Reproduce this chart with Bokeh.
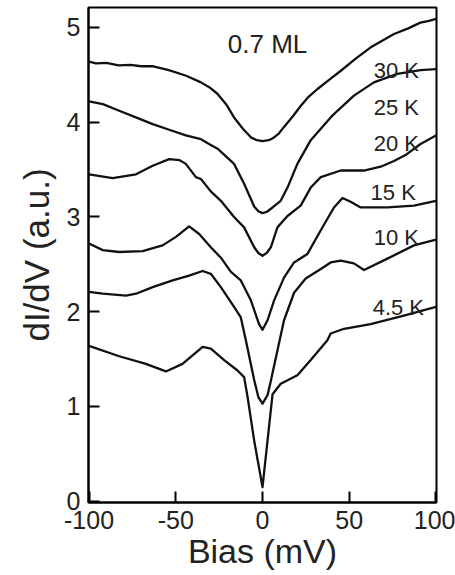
from bokeh.plotting import figure
from bokeh.models import Range1d, FixedTicker, ColumnDataSource
from bokeh.core.properties import value
from bokeh.embed import file_html
from bokeh.resources import INLINE

# Tunneling spectra dI/dV vs bias at several temperatures (curves are offset)
temps = ["30 K", "25 K", "20 K", "15 K", "10 K", "4.5 K"]

bias_30 = [-100, -96, -90, -83, -76, -70, -63, -54, -44, -35.5, -30, -26, -21, -16.4, -11.3, -6.7, -3.3, 0,
           3.6, 5.9, 9.4, 12.4, 17.4, 22, 26.7, 31.7, 39.3, 45, 53.7, 62.4, 70, 75.8, 84, 91, 96, 100]
didv_30 = [4.64, 4.62, 4.625, 4.60, 4.605, 4.59, 4.59, 4.55, 4.49, 4.42, 4.36, 4.30, 4.19, 4.05, 3.93, 3.84, 3.81, 3.80,
           3.81, 3.83, 3.88, 3.95, 4.06, 4.17, 4.27, 4.35, 4.46, 4.54, 4.67, 4.79, 4.87, 4.93, 4.99, 5.05, 5.07, 5.09]

bias_25 = [-100, -92, -82.6, -73, -63.3, -53.8, -44.2, -35.5, -29.8, -25.9, -16.4, -10.6, -4.8, -2.4, 0,
           2.6, 5.8, 10.5, 14.4, 20.1, 27.8, 33.6, 39.3, 43.2, 52.7, 64.2, 77.7, 91.1, 100]
didv_25 = [4.22, 4.19, 4.12, 4.05, 3.98, 3.92, 3.86, 3.82, 3.76, 3.72, 3.56, 3.35, 3.11, 3.06, 3.04,
           3.055, 3.10, 3.17, 3.31, 3.56, 3.81, 3.93, 4.05, 4.12, 4.28, 4.42, 4.51, 4.55, 4.56]

bias_20 = [-100, -86.4, -72.9, -63.3, -53.8, -48, -44.2, -38.4, -35.5, -29.8, -24, -16.4, -10.6, -4.8, -2.4, 0,
           2.4, 4.8, 8.6, 14.4, 22, 27.8, 33.6, 45.1, 58.5, 68.1, 75.8, 83, 91.1, 100]
didv_20 = [3.45, 3.41, 3.45, 3.54, 3.61, 3.60, 3.56, 3.42, 3.40, 3.27, 3.17, 3.00, 2.89, 2.68, 2.62, 2.59,
           2.62, 2.68, 2.89, 3.01, 3.12, 3.31, 3.42, 3.49, 3.49, 3.53, 3.59, 3.66, 3.77, 3.86]

bias_15 = [-100, -92.1, -82.6, -69.1, -57.6, -49.9, -42.3, -36.5, -29.8, -24, -18.2, -12.5, -6.7, -2, 0,
           2.9, 6.7, 12.4, 18.2, 25.9, 33.6, 41.2, 46.1, 50.8, 56.6, 72, 87.3, 100]
didv_15 = [2.72, 2.65, 2.63, 2.64, 2.70, 2.79, 2.90, 2.82, 2.68, 2.57, 2.42, 2.33, 2.12, 1.87, 1.81,
           1.91, 2.12, 2.36, 2.52, 2.61, 2.86, 3.10, 3.20, 3.16, 3.10, 3.10, 3.12, 3.17]

bias_10 = [-100, -92.1, -78.7, -72.9, -63.3, -51.8, -42.3, -34.5, -29.8, -24, -16.4, -12.5, -9.6, -4.8, -2.4, 0,
           2.9, 4.8, 8.6, 12.4, 18.2, 24.9, 33.6, 39.3, 45.1, 52.7, 58.5, 72, 87.3, 100]
didv_10 = [2.21, 2.19, 2.17, 2.19, 2.26, 2.33, 2.38, 2.43, 2.40, 2.26, 2.05, 1.94, 1.70, 1.28, 1.10, 1.03,
           1.12, 1.27, 1.59, 1.91, 2.20, 2.35, 2.45, 2.52, 2.54, 2.51, 2.44, 2.56, 2.70, 2.76]

bias_45 = [-100, -82.6, -67.2, -55.7, -46.1, -34.5, -29.8, -22.1, -14.4, -10.6, -8.6, -4.8, 0,
           2.9, 5.8, 10.5, 20.1, 27.8, 37.4, 39.3, 47, 62.3, 81.5, 100]
didv_45 = [1.64, 1.53, 1.45, 1.37, 1.45, 1.63, 1.61, 1.49, 1.38, 1.31, 1.10, 0.64, 0.15,
           0.64, 1.13, 1.24, 1.33, 1.49, 1.70, 1.77, 1.82, 1.87, 1.96, 2.05]

x_ticks = [-100, -50, 0, 50, 100]
x_tick_text = ["-100", "-50", "0", "50", "100"]
y_ticks = [0, 1, 2, 3, 4, 5]

FONT = "Liberation Sans"

p = figure(width=455, height=575,
           x_range=Range1d(-100.3, 100.3), y_range=Range1d(-0.013, 5.21),
           output_backend="svg", toolbar_location=None,
           min_border_left=88, min_border_right=19,
           min_border_top=7, min_border_bottom=73)

p.background_fill_color = "white"
p.border_fill_color = "white"
p.grid.visible = False
p.outline_line_color = "black"
p.outline_line_width = 2
p.outline_line_alpha = 1

series = [(bias_30, didv_30), (bias_25, didv_25), (bias_20, didv_20),
          (bias_15, didv_15), (bias_10, didv_10), (bias_45, didv_45)]
for bx, dy in series:
    p.line(bx, dy, line_color="#111111", line_width=2.3, line_join="round")

# axes
p.xaxis.ticker = FixedTicker(ticks=x_ticks)
p.yaxis.ticker = FixedTicker(ticks=y_ticks)
p.xaxis.major_label_overrides = {t: s for t, s in zip(x_ticks, x_tick_text)}
for ax in (p.xaxis[0], p.yaxis[0]):
    ax.axis_line_width = 2
    ax.axis_line_color = "black"
    ax.major_tick_in = 11
    ax.major_tick_out = 0
    ax.major_tick_line_width = 2
    ax.major_tick_line_color = "black"
    ax.minor_tick_line_color = None
    ax.major_label_text_font = FONT
    ax.major_label_text_font_size = "25px"
    ax.major_label_text_color = "#222222"
    ax.axis_label_text_font = FONT
    ax.axis_label_text_font_style = "normal"
    ax.axis_label_text_color = "#222222"

p.xaxis.axis_label = "Bias (mV)"
p.yaxis.axis_label = "dI/dV (a.u.)"
p.xaxis.axis_label_text_font_size = "34px"
p.yaxis.axis_label_text_font_size = "35px"
p.xaxis.major_label_standoff = 8
p.xaxis.axis_label_standoff = 0
p.yaxis.major_label_standoff = 8
p.yaxis.axis_label_standoff = 8

# temperature labels and coverage annotation
label_x = [64.1, 64.1, 64.1, 62.3, 64.1, 63.5]
label_y = [4.54, 4.15, 3.77, 3.26, 2.78, 2.04]
src = ColumnDataSource(dict(x=label_x, y=label_y, t=temps))
p.text(x="x", y="y", text="t", source=src, text_font=value(FONT),
       text_font_size="22px", text_color="#222222",
       text_align="left", text_baseline="alphabetic")

p.text(x=[-20], y=[4.83], text=["0.7 ML"], text_font=value(FONT),
       text_font_size="26px", text_color="#222222",
       text_align="left", text_baseline="alphabetic")

open("out.html", "w").write(file_html(p, INLINE))
